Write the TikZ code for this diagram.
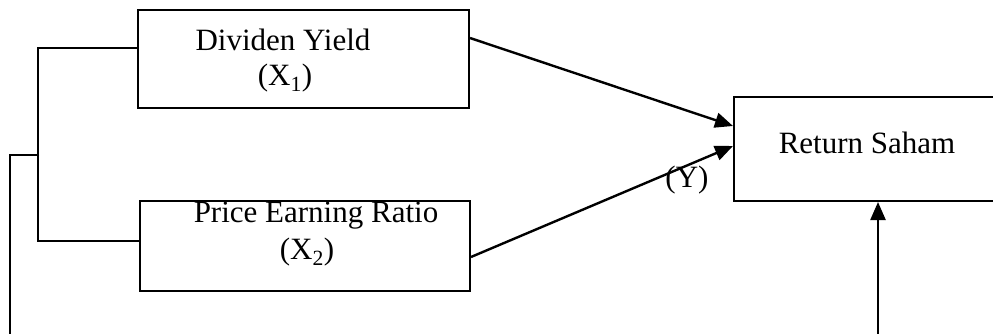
\documentclass[tikz,border=0pt]{standalone}
\usepackage{fontspec}
\setmainfont{Liberation Serif}
\usetikzlibrary{arrows.meta}
\begin{document}
\begin{tikzpicture}[x=1pt,y=-1pt,
  box/.style={draw,line width=2pt,inner sep=0pt},
  lbl/.style={inner sep=0pt,font=\fontsize{31}{36}\selectfont},
  wire/.style={line width=2pt},
  flow/.style={line width=2.4pt,-{Triangle[length=18pt,width=15pt]}}]
\useasboundingbox (0,0) rectangle (993,334);
% variable boxes
\node[box,minimum width=331pt,minimum height=98pt] (b1) at (303.5,59) {};
\node[box,minimum width=330pt,minimum height=90pt] (b2) at (305,246) {};
\node[box,minimum width=264pt,minimum height=104pt] (ret) at (866,149) {};
% texts
\node[lbl] (t1) at (283,40) {Dividen Yield};
\node[lbl] (t1s) at (285,78) {(X\textsubscript{1})};
\node[lbl] (t2) at (316,216) {Price Earning Ratio};
\node[lbl] (t2s) at (307,252) {(X\textsubscript{2})};
\node[lbl] (t3) at (867,143) {Return Saham};
\node[lbl] (ty) at (687,180) {(Y)};
% arrows into the dependent variable
\draw[flow] ([yshift=21pt]b1.east) -- ([yshift=23pt]ret.west);
\draw[flow] ([yshift=-11pt]b2.east) -- ([yshift=3pt]ret.west);
\coordinate (foot) at (878,334);
\draw[flow] (foot) -- ([xshift=12pt]ret.south);
% bracket joining the two independent variables
\draw[wire] ([yshift=11pt]b1.west) -- ++(-99pt,0) |- ([yshift=5pt]b2.west);
\coordinate (tap) at (39,155);
\coordinate (lfoot) at (10,334);
\draw[wire] (tap) -| (lfoot);
\end{tikzpicture}
\end{document}
